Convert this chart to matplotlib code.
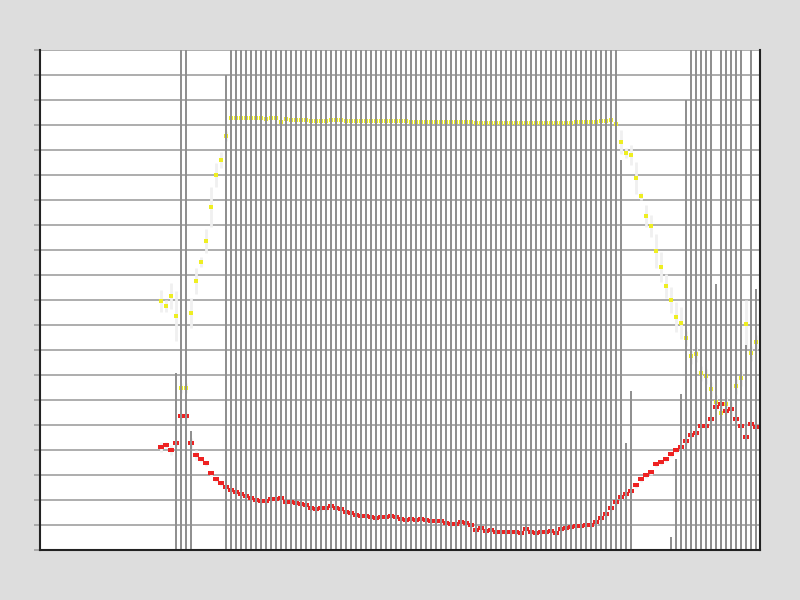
import numpy as np
from matplotlib import pyplot as plt

# Datenreihen (Index 0..119)
gelb = [49.8, 48.8, 50.8, 46.8, 32.4, 32.4, 47.4, 53.8, 57.6, 61.8, 68.6, 75.0, 78.0, 82.8,
        86.4, 86.4, 86.4, 86.4, 86.4, 86.4, 86.4, 86.2, 86.4, 86.4, 85.6, 86.2, 86.0, 86.0,
        86.0, 86.0, 85.8, 85.8, 85.8, 85.8, 86.0, 86.0, 86.0, 85.8, 85.8, 85.8, 85.8, 85.8,
        85.8, 85.8, 85.8, 85.8, 85.8, 85.8, 85.8, 85.8, 85.6, 85.6, 85.6, 85.6, 85.6, 85.6,
        85.6, 85.6, 85.6, 85.6, 85.6, 85.6, 85.6, 85.4, 85.4, 85.4, 85.4, 85.4, 85.4, 85.4,
        85.4, 85.4, 85.4, 85.4, 85.4, 85.4, 85.4, 85.4, 85.4, 85.4, 85.4, 85.4, 85.4, 85.6,
        85.6, 85.6, 85.6, 85.6, 85.8, 85.8, 86.0, 85.2,
        81.6, 79.4, 79.0, 74.4, 70.8, 66.8, 64.8, 59.8, 56.6, 52.8, 50.0, 46.6, 45.4, 42.4,
        38.8, 39.2, 35.4, 34.8, 32.2, 29.6, 27.4, 29.2, 28.2, 32.8, 34.4, 45.2, 39.4, 41.6]
gelb_err = [2.2, 1.2, 2.6, 5.0, 1.0, 1.0, 3.0, 2.6, 1.0, 2.4, 4.0, 2.4, 1.6, 1.0] + [0.3] * 78 + \
           [2.4, 1.0, 2.0, 3.2, 0.8, 2.2, 2.2, 3.4, 3.0, 2.4, 2.6, 3.0, 3.2, 1.5,
            1.5, 1.5, 1.5, 1.5, 1.5, 1.5, 1.5, 1.5, 1.5, 1.5, 1.5, 4.8, 1.5, 1.5]

rot = [20.6, 21.0, 20.0, 21.4, 26.8, 26.8, 21.4, 19.0, 18.2, 17.4, 15.4, 14.2, 13.4, 12.6,
       12.0, 11.6, 11.2, 10.8, 10.4, 10.0, 9.8, 9.8, 10.2, 10.2, 10.4, 9.6, 9.6, 9.4, 9.2,
       9.0, 8.4, 8.2, 8.4, 8.4, 8.8, 8.4, 8.2, 7.6, 7.4, 7.0, 6.8, 6.8, 6.6, 6.4, 6.6, 6.6,
       6.8, 6.6, 6.2, 6.0, 6.2, 6.0, 6.2, 6.0, 5.8, 5.8, 5.8, 5.4, 5.2, 5.2, 5.6, 5.4, 5.0,
       4.0, 4.4, 3.8, 4.0, 3.6, 3.6, 3.6, 3.6, 3.6, 3.4, 4.2, 3.6, 3.4, 3.6, 3.6, 3.8, 3.4,
       4.2, 4.4, 4.6, 4.8, 4.8, 5.0, 5.0, 5.6, 6.4, 7.2, 8.4, 9.6, 10.6, 11.2, 11.8, 13.0,
       14.2, 15.0, 15.6, 17.2, 17.6, 18.2, 19.2, 20.0, 20.6, 21.8, 23.0, 23.4, 24.8, 24.8,
       26.2, 28.6, 29.2, 27.8, 28.2, 26.2, 24.8, 22.6, 25.2, 24.6]
rot_err = [1.0, 0.6, 1.0, 0.6, 0.6, 0.6, 1.0, 1.0] + [0.5] * 112

balken = [0, 0, 0, 35.4, 100, 100, 23.8, 0, 0, 0, 0, 0, 0, 95] + [100] * 78 + \
         [78, 21.4, 31.8, 0, 0, 0, 0, 0, 0, 0, 2.6, 18.2, 31.2, 90,
          100, 100, 100, 100, 100, 53.2, 100, 100, 100, 100, 100, 41, 100, 52.2]

x = np.arange(len(rot))

fig = plt.figure(figsize=(8, 6), dpi=100, facecolor='#dddddd')
ax = fig.add_axes([0.05, 0.0833, 0.9, 0.8334])
ax.set_facecolor('white')

marker = [(-1, -0.7), (1, -0.7), (1, 0.7), (-1, 0.7), (-1, -0.7)]

ax.errorbar(x, gelb, yerr=gelb_err, fmt='none', ecolor='#f0f0f0', elinewidth=2, zorder=2)
ax.errorbar(x, rot, yerr=rot_err, fmt='none', ecolor='#f0f0f0', elinewidth=2, zorder=2)
ax.plot(x, gelb, linestyle='none', marker=marker, markersize=3.2, color='#eeee22',
        markeredgewidth=0, zorder=3)
ax.plot(x, rot, linestyle='none', marker=marker, markersize=3.8, color='#ee2222',
        markeredgewidth=0, zorder=3)
ax.bar(x, balken, width=0.5, color='#909090', zorder=4)

ax.set_xlim(-24.2, 119.8)
ax.set_ylim(0, 100)
ax.set_yticks(np.arange(0, 101, 5))
ax.set_yticklabels([])
ax.set_xticks([])
ax.tick_params(axis='y', length=4, width=1.2, color='#a0a0a0')
ax.grid(True, axis='y', color='#a0a0a0', linewidth=1.2, zorder=1)
ax.set_axisbelow(True)

ax.spines['top'].set_visible(False)
for s in ['left', 'right', 'bottom']:
    ax.spines[s].set_color('#222222')
    ax.spines[s].set_linewidth(1.5)
    ax.spines[s].set_zorder(5)

fig.savefig('out.png', dpi=100, facecolor=fig.get_facecolor())
